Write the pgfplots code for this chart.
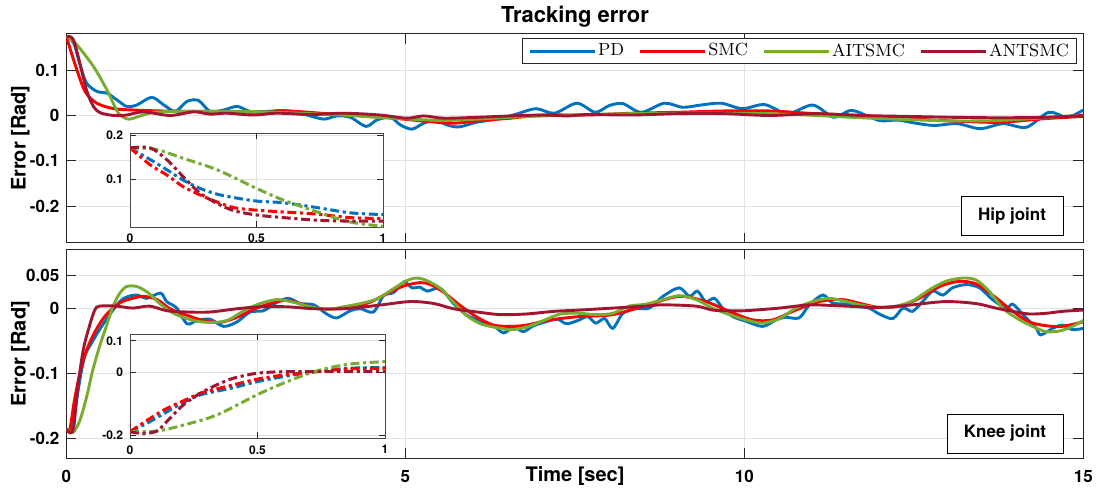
\documentclass[border=0pt]{standalone}
\usepackage{fontspec}
\newfontfamily\hv{TeX Gyre Heros}
\usepackage{pgfplots}
\pgfplotsset{compat=1.18}
\definecolor{pdc}{RGB}{0,114,189}
\definecolor{smcc}{RGB}{255,0,0}
\definecolor{aitc}{RGB}{119,172,48}
\definecolor{antc}{RGB}{162,20,47}
\definecolor{axc}{RGB}{38,38,38}
\definecolor{gridc}{RGB}{226,226,226}
\pgfplotsset{
  common/.style={
    scale only axis, anchor=south west,
    axis line style={draw=axc, line width=0.6pt},
    tick style={draw=axc, line width=0.5pt},
    tick align=inside, tick pos=both,
    grid=major, grid style={draw=gridc, line width=0.5pt},
    /pgf/number format/assume math mode=true,
    /pgf/number format/fixed, /pgf/number format/precision=2,
    scaled ticks=false,
  },
  panel/.style={
    common, width=508.5pt, height=104.5pt,
    xmin=0, xmax=15, xtick={0,5,10,15},
    major tick length=5pt,
    ticklabel style={font=\hv\bfseries\fontsize{8.5}{10}\selectfont},
    xticklabel style={yshift=-2.5pt},
    ylabel style={font=\hv\bfseries\fontsize{10}{12}\selectfont,
                  at={(axis description cs:-0.0452,0.5)}, anchor=center},
    every axis plot/.append style={line width=1.45pt, smooth},
  },
  inset/.style={
    common, xmin=0, xmax=1, xtick={0,0.5,1},
    axis line style={draw=axc!85, line width=0.5pt},
    major tick length=3pt,
    axis background/.style={fill=white},
    ticklabel style={font=\hv\bfseries\fontsize{6}{7}\selectfont},
    every axis plot/.append style={line width=1.5pt, smooth,
      dash pattern=on 4.5pt off 1.8pt on 1.6pt off 1.8pt},
  },
}
\begin{document}
\begin{tikzpicture}
\useasboundingbox (0,0) rectangle (552pt,244pt);

%% ---------- hip joint ----------
\begin{axis}[panel, at={(33.15pt,122.65pt)},
  ymin=-0.28, ymax=0.18, ytick={-0.2,-0.1,0,0.1},
  xticklabels={},
  ylabel={Error [Rad]},
  legend columns=4,
  legend cell align=left,
  legend image code/.code={\draw[#1] (0pt,0pt) -- (32.5pt,0pt);},
  legend style={at={(rel axis cs:0.9938,0.9776)}, anchor=north east,
    draw=axc, line width=0.5pt, fill=white,
    font=\fontsize{8.8}{10}\selectfont,
    inner xsep=3pt, inner ysep=1.5pt,
    nodes={inner sep=0.8pt},
    /tikz/every even column/.append style={column sep=6.5pt}},
]
\addplot[pdc] coordinates {
(0,0.174)(0.11,0.159)(0.21,0.108)(0.30,0.071)(0.45,0.053)(0.60,0.049)(0.75,0.034)
(0.89,0.020)(1.04,0.023)(1.26,0.040)(1.44,0.023)(1.61,0.009)(1.78,0.031)(1.95,0.033)
(2.12,0.009)(2.32,0.012)(2.52,0.020)(2.71,0.009)(2.96,0.009)(3.16,0.011)(3.35,0.009)
(3.55,0.001)(3.80,-0.008)(3.99,-0.001)(4.19,-0.004)(4.42,-0.024)(4.58,-0.010)
(4.78,-0.004)(4.93,-0.021)(5.10,-0.030)(5.27,-0.017)(5.44,-0.011)(5.64,-0.022)
(5.80,-0.025)(6.05,-0.015)(6.39,-0.007)(6.66,0.004)(6.93,0.015)(7.20,0.005)
(7.53,0.027)(7.80,0.007)(8.01,0.022)(8.21,0.026)(8.48,0.007)(8.82,0.027)(9.09,0.018)
(9.36,0.023)(9.66,0.027)(9.97,0.015)(10.30,0.024)(10.64,0.004)(11.01,0.023)
(11.32,-0.004)(11.59,0.011)(11.99,-0.011)(12.26,-0.010)(12.53,-0.017)(12.80,-0.022)
(13.14,-0.018)(13.48,-0.029)(13.82,-0.018)(14.16,-0.026)(14.49,0.007)(14.76,-0.004)
(15,0.012)
};
\addlegendentry{PD}
\addplot[smcc] coordinates {
(0,0.174)(0.05,0.150)(0.15,0.103)(0.28,0.052)(0.45,0.027)(0.70,0.015)(1.0,0.012)
(1.39,0.010)(1.88,0.009)(2.37,0.009)(2.86,0.007)(3.35,0.009)(3.84,0.004)(4.34,-0.001)
(4.83,-0.006)(5.32,-0.013)(5.71,-0.017)(6.11,-0.011)(6.55,-0.006)(7.04,0.001)
(7.67,0.001)(8.34,0.005)(9.02,0.007)(9.70,0.010)(10.37,0.010)(11.05,0.004)(11.72,0)
(12.40,-0.007)(13.07,-0.012)(13.75,-0.015)(14.43,-0.007)(15,-0.002)
};
\addlegendentry{SMC}
\addplot[aitc] coordinates {
(0,0.174)(0.05,0.170)(0.16,0.155)(0.40,0.108)(0.60,0.056)(0.77,0.005)(0.92,-0.008)
(1.09,-0.001)(1.29,0.007)(1.63,0.009)(2.12,0.009)(2.62,0.009)(3.11,0.007)(3.60,0.004)
(4.09,0.001)(4.58,-0.004)(5.07,-0.008)(5.57,-0.011)(6.06,-0.008)(6.55,-0.004)
(7.04,-0.001)(7.67,0.002)(8.34,0.004)(9.02,0.005)(9.70,0.005)(10.37,0.004)(11.05,0)
(11.72,-0.005)(12.40,-0.009)(13.07,-0.012)(13.75,-0.011)(14.43,-0.005)(15,0.001)
};
\addlegendentry{AITSMC}
\addplot[antc] coordinates {
(0,0.174)(0.1,0.168)(0.2,0.115)(0.3,0.055)(0.4,0.020)(0.5,0.006)(0.7,0)(0.89,0.001)
(1.14,0.008)(1.53,0)(1.88,0.008)(2.12,0.003)(2.37,0.005)(2.76,0.001)(3.11,0.005)
(3.60,0.002)(4.09,0.005)(4.63,0.001)(5.02,-0.006)(5.27,-0.001)(5.57,-0.006)
(6.06,-0.004)(6.55,-0.001)(7.04,0.001)(7.40,-0.001)(7.67,0.002)(8.34,0.001)
(9.02,0.004)(9.70,0.004)(10.37,0)(11.05,0.004)(11.72,0)(12.40,-0.002)(13.07,-0.004)
(13.75,-0.005)(14.43,-0.004)(15,0)
};
\addlegendentry{ANTSMC}
\end{axis}

\begin{axis}[inset, at={(65pt,130.5pt)}, width=126.5pt, height=47pt,
  ymin=-0.0095, ymax=0.206, ytick={0.1,0.2}]
\addplot[pdc] coordinates {
(0,0.172)(0.08,0.145)(0.145,0.122)(0.21,0.098)(0.277,0.079)(0.343,0.066)(0.41,0.058)
(0.5,0.05)(0.607,0.046)(0.74,0.035)(0.87,0.023)(1,0.019)
};
\addplot[smcc] coordinates {
(0,0.172)(0.08,0.133)(0.145,0.110)(0.21,0.083)(0.277,0.064)(0.343,0.048)(0.41,0.035)
(0.5,0.029)(0.607,0.025)(0.74,0.020)(0.87,0.012)(1,0.010)
};
\addplot[aitc] coordinates {
(0,0.172)(0.105,0.168)(0.21,0.148)(0.343,0.122)(0.5,0.079)(0.607,0.052)(0.74,0.025)
(0.87,0.002)(1,-0.008)
};
\addplot[antc] coordinates {
(0,0.172)(0.08,0.172)(0.145,0.145)(0.21,0.106)(0.277,0.068)(0.343,0.045)(0.41,0.028)
(0.5,0.018)(0.607,0.012)(0.74,0.006)(0.87,0.004)(1,0.004)
};
\end{axis}

%% ---------- knee joint ----------
\begin{axis}[panel, at={(33.15pt,14.85pt)},
  ymin=-0.23, ymax=0.09, ytick={-0.2,-0.1,0,0.05},
  ylabel={Error [Rad]},
]
\addplot[pdc] coordinates {
(0,-0.185)(0.07,-0.187)(0.12,-0.162)(0.20,-0.110)(0.27,-0.074)(0.37,-0.054)
(0.49,-0.033)(0.64,-0.010)(0.79,0.010)(0.89,0.017)(1.04,0.020)(1.19,0.015)(1.39,0.023)
(1.48,0.010)(1.63,0)(1.78,-0.024)(1.93,-0.019)(2.12,-0.017)(2.32,-0.028)(2.52,-0.021)
(2.71,-0.006)(2.91,-0.004)(3.11,0.009)(3.28,0.015)(3.45,0.007)(3.65,0.005)
(3.84,-0.009)(3.99,-0.015)(4.19,-0.004)(4.34,-0.001)(4.53,-0.006)(4.68,0.019)
(4.83,0.024)(4.98,0.040)(5.10,0.031)(5.22,0.032)(5.32,0.026)(5.52,0.030)(5.71,0.007)
(5.91,-0.011)(6.11,-0.020)(6.30,-0.027)(6.45,-0.038)(6.60,-0.029)(6.74,-0.036)
(6.89,-0.027)(7.04,-0.022)(7.24,-0.017)(7.38,-0.024)(7.57,-0.018)(7.69,-0.013)
(7.81,-0.023)(7.94,-0.016)(8.06,-0.031)(8.21,-0.008)(8.40,-0.001)(8.60,0)(8.80,0.018)
(9.04,0.031)(9.19,0.018)(9.31,0.026)(9.43,0.010)(9.56,0.015)(9.68,0)(9.83,-0.013)
(10.02,-0.020)(10.27,-0.028)(10.47,-0.018)(10.61,-0.014)(10.81,-0.015)(10.96,0.005)
(11.16,0.020)(11.30,0.008)(11.50,0.006)(11.65,0.003)(11.84,0)(11.99,-0.009)
(12.19,-0.016)(12.34,0)(12.48,-0.005)(12.63,0.010)(12.78,0.026)(12.93,0.020)
(13.07,0.031)(13.27,0.036)(13.47,0.031)(13.66,0.013)(13.86,0)(13.96,0.006)
(14.11,-0.010)(14.30,-0.030)(14.37,-0.041)(14.55,-0.031)(14.69,-0.026)(14.84,-0.033)
(15,-0.031)
};
\addplot[smcc] coordinates {
(0,-0.185)(0.05,-0.187)(0.12,-0.141)(0.20,-0.100)(0.30,-0.064)(0.44,-0.033)
(0.59,-0.010)(0.79,0.008)(0.98,0.015)(1.14,0.018)(1.34,0.013)(1.53,-0.001)
(1.78,-0.011)(2.02,-0.019)(2.27,-0.022)(2.52,-0.014)(2.76,-0.002)(3.01,0.007)
(3.25,0.012)(3.50,0.005)(3.75,-0.001)(3.99,-0.001)(4.24,0.002)(4.48,0.009)
(4.73,0.022)(4.98,0.034)(5.22,0.039)(5.37,0.036)(5.57,0.024)(5.81,0.004)(6.06,-0.014)
(6.30,-0.026)(6.55,-0.028)(6.79,-0.026)(7.04,-0.020)(7.29,-0.016)(7.57,-0.013)
(8.06,-0.010)(8.55,0.004)(9.04,0.018)(9.43,0.010)(9.78,-0.005)(10.12,-0.018)
(10.42,-0.018)(10.76,-0.003)(11.11,0.010)(11.45,0.013)(11.75,0.006)(11.99,0.001)
(12.29,0.003)(12.58,0.015)(12.88,0.033)(13.17,0.041)(13.42,0.037)(13.66,0.020)
(13.96,-0.005)(14.20,-0.021)(14.45,-0.027)(14.69,-0.028)(15,-0.021)
};
\addplot[aitc] coordinates {
(0,-0.185)(0.10,-0.190)(0.20,-0.172)(0.30,-0.136)(0.39,-0.095)(0.49,-0.059)
(0.59,-0.028)(0.69,0.003)(0.79,0.023)(0.89,0.033)(1.04,0.033)(1.2,0.024)(1.4,0.005)
(1.6,-0.009)(1.88,-0.019)(2.12,-0.022)(2.37,-0.019)(2.62,-0.004)(2.86,0.007)
(3.11,0.013)(3.35,0.009)(3.60,0.002)(3.84,-0.002)(4.09,0.002)(4.34,0.007)(4.58,0.014)
(4.83,0.030)(5.02,0.042)(5.17,0.046)(5.32,0.042)(5.52,0.030)(5.71,0.009)(5.91,-0.012)
(6.11,-0.024)(6.30,-0.029)(6.55,-0.033)(6.79,-0.029)(7.04,-0.019)(7.29,-0.009)
(7.57,-0.008)(7.81,-0.010)(8.06,-0.008)(8.30,0.003)(8.55,0.006)(8.80,0.013)
(9.04,0.019)(9.29,0.013)(9.53,0)(9.78,-0.010)(10.02,-0.018)(10.27,-0.023)
(10.52,-0.016)(10.76,0)(11.01,0.010)(11.25,0.015)(11.50,0.010)(11.75,0.004)
(11.99,0.001)(12.24,0.003)(12.48,0.011)(12.73,0.028)(12.97,0.041)(13.22,0.046)
(13.42,0.043)(13.61,0.026)(13.81,0)(14.01,-0.015)(14.25,-0.028)(14.45,-0.036)
(14.65,-0.035)(14.84,-0.028)(15,-0.019)
};
\addplot[antc] coordinates {
(0,-0.185)(0.06,-0.191)(0.11,-0.182)(0.17,-0.121)(0.25,-0.064)(0.34,-0.028)
(0.42,-0.003)(0.49,0.003)(0.74,0.003)(0.98,0)(1.23,0.003)(1.48,-0.004)(1.78,-0.006)
(2.12,-0.006)(2.52,-0.001)(2.86,0.002)(3.25,0.002)(3.65,-0.001)(4.09,-0.001)
(4.58,0.004)(5.07,0.010)(5.42,0.007)(5.71,-0.001)(6.06,-0.006)(6.40,-0.010)
(6.79,-0.009)(7.19,-0.005)(7.57,-0.003)(8.06,0)(8.55,0.003)(8.80,0.005)(9.29,0.003)
(9.53,-0.003)(9.78,-0.004)(10.02,-0.004)(10.52,0)(10.76,0.003)(11.01,0.005)
(11.50,0.003)(12.00,0.001)(12.48,0.005)(12.73,0.008)(12.97,0.010)(13.22,0.009)
(13.47,0.006)(13.71,0)(13.96,-0.005)(14.20,-0.009)(14.45,-0.008)(14.69,-0.005)
(15,-0.003)
};
\end{axis}

\begin{axis}[inset, at={(65pt,24.85pt)}, width=127.5pt, height=52pt,
  ymin=-0.21, ymax=0.121, ytick={-0.2,0,0.1}]
\addplot[pdc] coordinates {
(0,-0.189)(0.078,-0.157)(0.144,-0.126)(0.209,-0.096)(0.275,-0.072)(0.34,-0.060)
(0.405,-0.049)(0.497,-0.030)(0.6,-0.014)(0.73,0.002)(0.86,0.013)(1,0.015)
};
\addplot[smcc] coordinates {
(0,-0.189)(0.078,-0.147)(0.144,-0.115)(0.209,-0.091)(0.275,-0.067)(0.34,-0.053)
(0.405,-0.040)(0.497,-0.022)(0.6,-0.009)(0.73,0.002)(0.86,0.011)(1,0.013)
};
\addplot[aitc] coordinates {
(0,-0.189)(0.105,-0.187)(0.209,-0.168)(0.34,-0.136)(0.497,-0.072)(0.6,-0.035)
(0.73,0.004)(0.86,0.026)(1,0.034)
};
\addplot[antc] coordinates {
(0,-0.189)(0.052,-0.195)(0.105,-0.187)(0.144,-0.157)(0.209,-0.104)(0.275,-0.067)
(0.34,-0.040)(0.405,-0.019)(0.497,-0.003)(0.6,0.002)(0.73,0.002)(0.86,0.002)(1,0.002)
};
\end{axis}

%% ---------- texts ----------
\node[font=\hv\bfseries\fontsize{11}{13}\selectfont] at (287.5pt,235.5pt) {Tracking error};
\node[font=\hv\bfseries\fontsize{10}{12}\selectfont, anchor=base] at (287.5pt,3.5pt) {Time [sec]};
\node[draw=black, line width=0.5pt, fill=white, minimum width=51pt, minimum height=19.5pt,
  inner sep=0pt, font=\hv\bfseries\fontsize{8.5}{10}\selectfont] at (506pt,135.75pt) {Hip joint};
\node[draw=black, line width=0.5pt, fill=white, minimum width=58pt, minimum height=19.5pt,
  inner sep=0pt, font=\hv\bfseries\fontsize{8.5}{10}\selectfont] at (502.5pt,27.25pt) {Knee joint};
\end{tikzpicture}
\end{document}
